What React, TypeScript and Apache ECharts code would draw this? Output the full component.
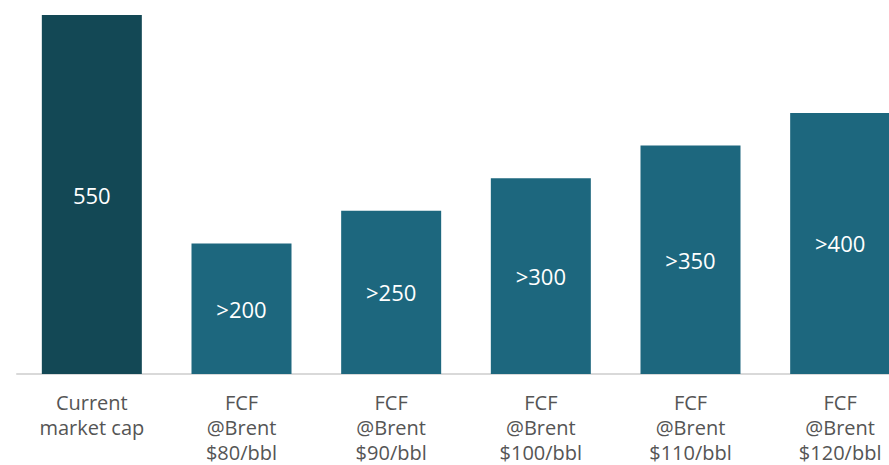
import React, { useEffect, useRef } from "react";
import * as echarts from "echarts";

const categories = [
  "Current\nmarket cap",
  "FCF\n@Brent\n$80/bbl",
  "FCF\n@Brent\n$90/bbl",
  "FCF\n@Brent\n$100/bbl",
  "FCF\n@Brent\n$110/bbl",
  "FCF\n@Brent\n$120/bbl",
];
const values = [550, 200, 250, 300, 350, 400];
const valueLabels = ["550", ">200", ">250", ">300", ">350", ">400"];
const barColors = ["#134855", "#1d677e", "#1d677e", "#1d677e", "#1d677e", "#1d677e"];

export default function App() {
  const ref = useRef<HTMLDivElement>(null);
  useEffect(() => {
    const chart = echarts.init(ref.current!, null, { renderer: "svg" });
    chart.setOption({
      animation: false,
      grid: { left: 17, right: 0, top: 15, bottom: 83, containLabel: false },
      xAxis: {
        type: "category",
        data: categories,
        axisLine: { lineStyle: { color: "#d9d9d9", width: 2 } },
        axisTick: { show: false },
        axisLabel: {
          color: "#555555",
          fontFamily: "Open Sans",
          fontSize: 20,
          lineHeight: 25,
          margin: 16,
          interval: 0,
        },
      },
      yAxis: {
        type: "value",
        min: 0,
        max: 550,
        show: false,
        splitLine: { show: false },
      },
      series: [
        {
          type: "bar",
          barWidth: 100,
          data: values.map((v, i) => ({ value: v, itemStyle: { color: barColors[i] } })),
          label: {
            show: true,
            position: "inside",
            color: "#ffffff",
            fontFamily: "Open Sans",
            fontSize: 22,
            formatter: (p: any) => valueLabels[p.dataIndex],
          },
        },
      ],
    });
    return () => chart.dispose();
  }, []);
  return (
    <div
      style={{
        position: "absolute",
        left: 0,
        top: 0,
        width: 889,
        height: 465,
        overflow: "hidden",
      }}
    >
      <div ref={ref} style={{ width: 915, height: 465 }} />
    </div>
  );
}
